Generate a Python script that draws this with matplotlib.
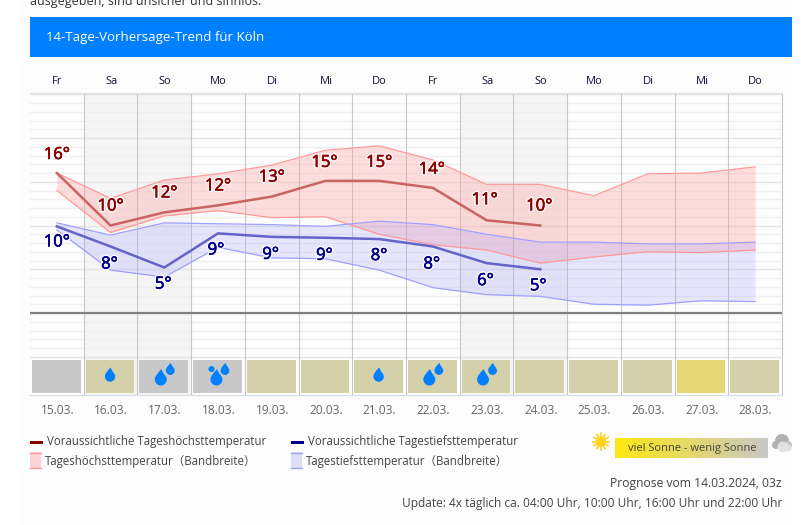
import numpy as np
import matplotlib
matplotlib.use("Agg")
import matplotlib.pyplot as plt
import matplotlib.patheffects as pe
from matplotlib.patches import Rectangle, PathPatch, Circle
from matplotlib.path import Path

plt.rcParams['font.family'] = ['Open Sans', 'DejaVu Sans']

wochentage = ["Fr", "Sa", "So", "Mo", "Di", "Mi", "Do", "Fr", "Sa", "So", "Mo", "Di", "Mi", "Do"]
daten = ["15.03.", "16.03.", "17.03.", "18.03.", "19.03.", "20.03.", "21.03.",
         "22.03.", "23.03.", "24.03.", "25.03.", "26.03.", "27.03.", "28.03."]

# mittlere Trendlinien, nur 10 Tage
hoch = [16.0, 10.0, 11.5, 12.3, 13.3, 15.1, 15.1, 14.3, 10.6, 10.0]
tief = [9.9, 7.6, 5.2, 9.1, 8.7, 8.6, 8.45, 7.6, 5.7, 5.0]

# Bandbreiten, alle 14 Tage
hoch_oben = [16.0, 13.1, 15.2, 15.9, 16.9, 18.6, 19.1, 17.5, 14.7, 14.7, 13.4, 15.9, 16.0, 16.7]
hoch_unten = [14.0, 9.2, 11.1, 11.7, 10.9, 11.0, 9.0, 7.8, 7.2, 5.7, 6.4, 7.0, 6.9, 7.2]
tief_oben = [10.3, 8.9, 10.3, 10.2, 10.1, 9.9, 10.5, 10.1, 9.0, 8.1, 8.1, 7.9, 7.9, 8.1]
tief_unten = [9.5, 4.9, 4.1, 7.5, 6.3, 6.2, 4.9, 2.9, 2.1, 1.9, 1.0, 0.9, 1.4, 1.3]

# Sonne: 0 grau, 1 oliv, 2 gelb; Tropfen: Regenstufe pro Tag
sonne = [0, 1, 0, 0, 1, 1, 1, 1, 1, 1, 1, 1, 2, 1]
regen = [0, 1, 2, 3, 0, 0, 1, 2, 2, 0, 0, 0, 0, 0]
wochenende = [1, 2, 8, 9]

W, H = 811, 525
ROT = "#8b0000"
BLAU = "#00008b"
TROPFEN = "#0080ff"
SONNE_FARBEN = ["#c8c8c8", "#d3d0aa", "#e3d773"]

fig = plt.figure(figsize=(W / 100, H / 100), dpi=100, facecolor="white")


def pixel_achse(z):
    a = fig.add_axes([0, 0, 1, 1], zorder=z)
    a.set_xlim(0, W)
    a.set_ylim(H, 0)
    a.axis("off")
    return a


# Hintergrund unter dem Diagramm, fg liegt darueber
bg = pixel_achse(0)
fg = pixel_achse(2)

bg.add_patch(Rectangle((18, -2), 774, 527, fc="#fdfdfd", ec="none"))
bg.text(30, 1, "ausgegeben, sind unsicher und sinnlos.", fontsize=9, color="#333333", va="center")
bg.add_patch(Rectangle((30, 17), 762, 40, fc="#007fff", ec="none"))
bg.text(46, 37, "14-Tage-Vorhersage-Trend für Köln", fontsize=9.5, color="white", va="center")

# Diagramm: x in Tagen, y in Grad
ax = fig.add_axes([30 / W, 1 - 395 / H, 752 / W, (395 - 93) / H], zorder=1)
ax.set_xlim(-0.5, 13.5)
ax.set_ylim((313 - 395) / 8.75, (313 - 93) / 8.75)
ax.patch.set_alpha(0)
for s in ax.spines.values():
    s.set_visible(False)
ax.spines["bottom"].set_visible(True)
ax.spines["bottom"].set_color("#d8dce4")
ax.spines["top"].set_visible(True)
ax.spines["top"].set_color("#e2e2e2")
ax.spines["right"].set_visible(True)
ax.spines["right"].set_color("#c8c8c8")
ax.tick_params(length=0, labelbottom=False, labelleft=False)

for d in wochenende:
    ax.axvspan(d - 0.5, d + 0.5, color="#f5f5f5", lw=0, zorder=0)

for g in np.arange(-5, 26):
    major = g % 5 == 0
    ax.axhline(g, color="#e4e4e4" if major else "#f0f0f0", lw=1.0, zorder=1)
for i in range(1, 14):
    ax.axvline(i - 0.5, color="#c8c8c8", lw=0.8, zorder=1)
ax.axhline(0, color="#808080", lw=1.6, zorder=5)

tage = np.arange(14)
ax.fill_between(tage, hoch_unten, hoch_oben, color="#ff9999", alpha=0.32, lw=0, zorder=2)
ax.fill_between(tage, tief_unten, tief_oben, color="#9999ff", alpha=0.23, lw=0, zorder=2)
ax.plot(tage, hoch_oben, color="#ff9a9a", lw=0.9, zorder=3)
ax.plot(tage, hoch_unten, color="#ff9a9a", lw=0.9, zorder=3)
ax.plot(tage, tief_oben, color="#a0a0ff", lw=0.9, zorder=3)
ax.plot(tage, tief_unten, color="#a0a0ff", lw=0.9, zorder=3)
ax.plot(tage[:len(hoch)], hoch, color="#c86464", lw=1.8, zorder=4)
ax.plot(tage[:len(tief)], tief, color="#6464c8", lw=1.8, zorder=4)

# Versatz der Zahlen gegenueber der Linie, in Pixeln
hoch_versatz = [(0, 18), (0, 19), (0, 19), (0, 19), (0, 19), (-1, 18), (0, 18), (-1, 18), (-2, 20), (-1, 19)]
tief_versatz = [(0, -16), (-1, -18), (-1, -17), (-2, -17), (-1, -18), (-1, -18), (0, -17), (-1, -18), (-1, -18), (-2, -17)]


def temp_label(x, wert, versatz, farbe):
    txt = ax.annotate(f"{round(wert)}°", (x, wert), xytext=versatz, textcoords="offset pixels",
                      ha="center", va="center", fontsize=12, color=farbe, zorder=6)
    # weisser Rand, dazu Ziffern etwas kraeftiger
    txt.set_path_effects([pe.withStroke(linewidth=2.5, foreground="white", alpha=0.8),
                          pe.Stroke(linewidth=0.4, foreground=farbe), pe.Normal()])


for i, wert in enumerate(hoch):
    temp_label(i, wert, hoch_versatz[i], ROT)
for i, wert in enumerate(tief):
    temp_label(i, wert, tief_versatz[i], BLAU)

# Wochentage und Datum
schritt = 752 / 14
for i in range(14):
    mitte = 30 + (i + 0.5) * schritt + 0.6
    fg.text(mitte, 82, wochentage[i], fontsize=8, color="#111133", ha="center", va="center")
    fg.text(mitte, 410, daten[i], fontsize=8.6, color="#666666", ha="center", va="center")


def tropfen(cx, cy, r):
    # Tropfen mit Spitze nach oben, Kreis plus Kurven
    k = 0.5523 * r
    verts = [(cx + 0.12 * r, cy - 1.75 * r),
             (cx + 0.3 * r, cy - 1.0 * r), (cx + r, cy - k), (cx + r, cy),
             (cx + r, cy + k), (cx + k, cy + r), (cx, cy + r),
             (cx - k, cy + r), (cx - r, cy + k), (cx - r, cy),
             (cx - r, cy - k), (cx - 0.5 * r, cy - 1.1 * r), (cx + 0.12 * r, cy - 1.75 * r)]
    codes = [Path.MOVETO] + [Path.CURVE4] * 12
    fg.add_patch(PathPatch(Path(verts, codes), fc=TROPFEN, ec="none", zorder=7))


# Kacheln mit Sonnenfarbe und Regentropfen
for i in range(14):
    links = 30 + i * schritt + 2
    fg.add_patch(Rectangle((links, 360), schritt - 5, 33, fc=SONNE_FARBEN[sonne[i]], ec="none", zorder=6))
    mitte = links + (schritt - 5) / 2
    if regen[i] == 1:
        tropfen(mitte, 376.5, 5.2)
    elif regen[i] == 2:
        tropfen(mitte - 3, 379.5, 6)
        tropfen(mitte + 6.5, 370.5, 4.4)
    elif regen[i] == 3:
        tropfen(mitte - 1, 379.5, 6)
        tropfen(mitte + 7.5, 370.5, 4.4)
        fg.add_patch(Circle((mitte - 6, 369), 3, fc=TROPFEN, ec="none", zorder=7))

# Legende
LEG = "#444444"
fg.add_patch(Rectangle((30, 441), 13, 3, fc=ROT, ec="none"))
fg.text(47, 442, "Voraussichtliche Tageshöchsttemperatur", fontsize=8.3, color=LEG, va="center")
fg.add_patch(Rectangle((291, 441), 13, 3, fc=BLAU, ec="none"))
fg.text(308, 442, "Voraussichtliche Tagestiefsttemperatur", fontsize=8.3, color=LEG, va="center")

fg.add_patch(Rectangle((30, 452), 11, 16, fc="#fbd5d5", ec="none"))
fg.plot([30, 41], [452.5, 452.5], color="#ff9a9a", lw=1)
fg.plot([30, 41], [468, 468], color="#ff9a9a", lw=1)
fg.text(45, 461, "Tageshöchsttemperatur（Bandbreite）", fontsize=8.3, color=LEG, va="center",
        family=['Open Sans', 'Noto Sans CJK SC'])
fg.add_patch(Rectangle((291, 452), 11, 16, fc="#dedef5", ec="none"))
fg.plot([291, 302], [452.5, 452.5], color="#a0a0ff", lw=1)
fg.plot([291, 302], [468, 468], color="#a0a0ff", lw=1)
fg.text(306, 461, "Tagestiefsttemperatur（Bandbreite）", fontsize=8.3, color=LEG, va="center",
        family=['Open Sans', 'Noto Sans CJK SC'])

# Sonnenskala mit Verlauf
verlauf = np.linspace(0, 1, 200).reshape(1, -1)
cmap = matplotlib.colors.LinearSegmentedColormap.from_list("sonne", ["#ffe811", "#c8c8c8"])
fg.imshow(verlauf, extent=(615, 768, 458, 438), cmap=cmap, aspect="auto", zorder=2)
fg.set_xlim(0, W)
fg.set_ylim(H, 0)
fg.text(692, 448.5, "viel Sonne - wenig Sonne", fontsize=8, color="#444433", ha="center", va="center", zorder=3)

# Sonnensymbol
fg.add_patch(Circle((601, 441.5), 5.2, fc="#ffd21e", ec="none"))
for w in np.arange(0, 360, 30):
    fg.plot([601 + 5 * np.cos(np.radians(w)), 601 + 8.2 * np.cos(np.radians(w))],
            [441.5 + 5 * np.sin(np.radians(w)), 441.5 + 8.2 * np.sin(np.radians(w))], color="#ffd21e", lw=1.2)

# Wolkensymbol
for cx, cy, r, c in [(782, 441, 7, "#b0b0b0"), (776, 445, 4, "#b0b0b0"), (788, 445, 4, "#c4c4c4"),
                     (783, 447, 5.5, "#e2e2e2"), (788, 448, 3.5, "#e2e2e2")]:
    fg.add_patch(Circle((cx, cy), r, fc=c, ec="none"))

fg.text(782, 483, "Prognose vom 14.03.2024, 03z", fontsize=8.7, color=LEG, ha="right", va="center")
fg.text(782, 503, "Update: 4x täglich ca. 04:00 Uhr, 10:00 Uhr, 16:00 Uhr und 22:00 Uhr", fontsize=8.6,
        color=LEG, ha="right", va="center")

fig.savefig("out.png", dpi=100)
